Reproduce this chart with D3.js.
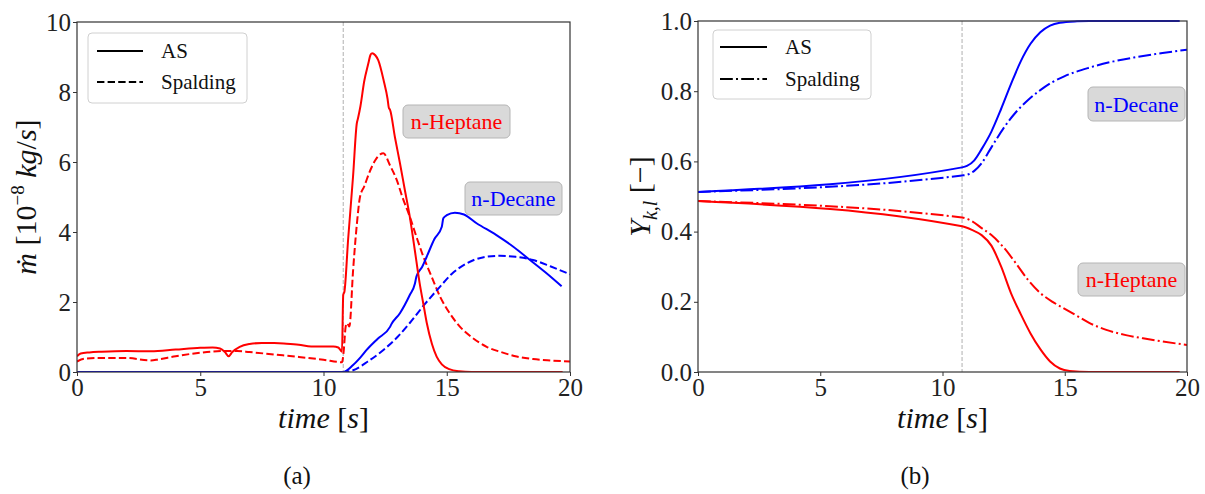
<!DOCTYPE html>
<html><head><meta charset="utf-8">
<script src="https://cdn.jsdelivr.net/npm/d3@7"></script>
<style>body{margin:0;background:#fff}svg{display:block}</style>
</head><body>
<svg id="c" width="1205" height="494"></svg>
<script>
// ---------- DATA ----------
const xTicks = [0, 5, 10, 15, 20];
const yTicksA = [0, 2, 4, 6, 8, 10];
const yTicksB = [0, 0.2, 0.4, 0.6, 0.8, 1.0];
const injectionTime = 10.8;
const legendLabels = ["AS", "Spalding"];
const speciesLabels = ["n-Heptane", "n-Decane"];

// panel (a): mass flow rate [1e-8 kg/s]
const heptaneAS_a = [[0,0.45],[0.15,0.53],[0.5,0.56],[1,0.58],[2,0.6],[3,0.59],[4,0.64],[5,0.69],[5.5,0.7],[5.8,0.67],[6.0,0.57],[6.15,0.45],[6.3,0.57],[6.6,0.72],[7,0.8],[7.5,0.83],[8,0.83],[8.5,0.81],[9,0.78],[9.5,0.73],[10,0.73],[10.4,0.73],[10.6,0.7],[10.75,0.58],[10.8,2.2],[10.85,2.3],[11.0,3.8],[11.2,5.6],[11.35,7.1],[11.4,7.25],[11.5,7.6],[11.65,8.3],[11.82,8.82],[11.9,9.05],[11.97,9.11],[12.1,9.05],[12.22,8.91],[12.45,8.3],[12.6,7.8],[12.65,7.55],[12.7,7.49],[12.9,6.7],[13.1,5.97],[13.3,5.2],[13.5,4.44],[13.7,3.5],[13.9,2.54],[14.05,1.95],[14.19,1.4],[14.4,0.8],[14.59,0.44],[14.8,0.22],[15.1,0.08],[15.5,0.02],[16,0],[19.7,0]];
const heptaneSp_a = [[0,0.3],[0.3,0.38],[1,0.4],[2,0.4],[3,0.33],[3.3,0.36],[4,0.45],[5,0.55],[6,0.6],[6.5,0.6],[7,0.57],[8,0.5],[9,0.43],[10,0.35],[10.75,0.28],[10.82,0.6],[10.9,1.3],[10.95,1.39],[11.0,1.35],[11.05,1.3],[11.2,2.9],[11.35,4.2],[11.48,5.0],[11.65,5.3],[11.89,5.75],[12.1,6.05],[12.3,6.22],[12.43,6.25],[12.7,5.9],[12.97,5.49],[13.2,5.0],[13.5,4.44],[13.8,3.8],[14.05,3.3],[14.4,2.7],[14.73,2.15],[15.1,1.7],[15.54,1.29],[16,1.0],[16.62,0.72],[17.2,0.57],[17.84,0.44],[18.5,0.37],[19.2,0.33],[20,0.3]];
const decaneAS_a = [[0,0],[10.8,0],[11.2,0.2],[11.5,0.42],[11.75,0.63],[12.2,0.95],[12.7,1.29],[12.75,1.36],[13.1,1.68],[13.5,2.2],[13.71,2.53],[13.77,2.73],[14.0,3.0],[14.19,3.3],[14.5,3.8],[14.8,4.15],[14.86,4.39],[15.0,4.48],[15.33,4.55],[15.7,4.5],[16.21,4.25],[17,3.92],[17.7,3.58],[18.38,3.2],[19,2.85],[19.66,2.45]];
const decaneSp_a = [[0,0],[10.8,0],[11.2,0.05],[11.8,0.3],[12.43,0.63],[13.0,1.0],[13.5,1.4],[14.1,1.93],[14.73,2.44],[15.2,2.8],[15.8,3.1],[16.5,3.28],[17.16,3.32],[17.8,3.29],[18.5,3.2],[19.2,3.02],[20,2.79]];

// panel (b): liquid mass fraction [-]
const decaneAS_b = [[0,0.513],[10.8,0.583],[11.0,0.587],[11.3,0.603],[11.6,0.635],[12.0,0.685],[12.4,0.75],[12.8,0.82],[13.2,0.885],[13.6,0.935],[14.0,0.968],[14.4,0.987],[14.8,0.995],[15.5,0.999],[16,1.0],[19.7,1.0]];
const decaneSp_b = [[0,0.513],[10.8,0.56],[11.0,0.562],[11.3,0.573],[11.6,0.595],[12.0,0.64],[12.5,0.695],[13.0,0.74],[13.5,0.775],[14.0,0.803],[14.5,0.826],[15.0,0.843],[16.0,0.867],[17,0.885],[18,0.898],[19,0.909],[20,0.918]];
const heptaneAS_b = [[0,0.487],[10.8,0.415],[11.2,0.405],[11.6,0.39],[12.0,0.36],[12.4,0.3],[12.8,0.225],[13.2,0.165],[13.6,0.11],[14.0,0.065],[14.4,0.03],[14.8,0.01],[15.2,0.003],[16,0],[19.7,0]];
const heptaneSp_b = [[0,0.487],[10.8,0.44],[11.2,0.43],[11.6,0.41],[12.0,0.39],[12.5,0.355],[13.0,0.31],[13.5,0.262],[14.0,0.225],[14.5,0.2],[15.0,0.18],[15.5,0.16],[16,0.14],[16.7,0.12],[17.5,0.105],[18.2,0.096],[19,0.087],[20,0.077]];

// ---------- DRAW ----------
const svg = d3.select("#c");
svg.append("rect").attr("width",1205).attr("height",494).attr("fill","#fff");
const FONT = "Liberation Serif, DejaVu Serif, serif";
const RED = "#ff0000", BLUE = "#0000ff";
const DASH = "7.4,3.2", DASHDOT = "12.8,3.2,2,3.2";

function panel(o) {
  const g = svg.append("g");
  const x = d3.scaleLinear().domain([0,20]).range([o.left, o.right]);
  const y = d3.scaleLinear().domain(o.yDomain).range([o.bottom, o.top]);
  const line = d3.line().x(d=>x(d[0])).y(d=>y(d[1])).curve(d3.curveMonotoneX);
  const clipId = "clip"+o.id;
  svg.append("clipPath").attr("id",clipId).append("rect")
     .attr("x",o.left).attr("y",o.top-2).attr("width",o.right-o.left).attr("height",o.bottom-o.top+2);
  g.append("line").attr("x1",x(injectionTime)).attr("x2",x(injectionTime))
    .attr("y1",o.top).attr("y2",o.bottom).attr("stroke","#b0b0b0").attr("stroke-width",1).attr("stroke-dasharray","4,2");
  o.series.forEach(s=>{
    g.append("path").datum(s.data).attr("d",line).attr("fill","none")
      .attr("stroke",s.color).attr("stroke-width",2).attr("stroke-dasharray",s.dash||null)
      .attr("clip-path",`url(#${clipId})`);
  });
  const ax = g.append("g").attr("transform",`translate(0,${o.bottom})`)
    .call(d3.axisBottom(x).tickValues(xTicks).tickSize(4).tickPadding(2).tickFormat(d3.format("d")));
  const ay = g.append("g").attr("transform",`translate(${o.left},0)`)
    .call(d3.axisLeft(y).tickValues(o.yTicks).tickSize(4).tickPadding(2).tickFormat(o.yFmt));
  [ax, ay].forEach(a=>{
    a.attr("font-family",null).attr("font-size",null);
    a.select(".domain").remove();
    a.selectAll("line").attr("stroke","#333");
    a.selectAll("text").style("font-family",FONT).style("font-size","25px").attr("fill","#222");
  });
  g.append("rect").attr("x",o.left).attr("y",o.top).attr("width",o.right-o.left).attr("height",o.bottom-o.top)
    .attr("fill","none").attr("stroke","#333").attr("stroke-width",1.2);
  const L = o.legend;
  g.append("rect").attr("x",L.x).attr("y",L.y).attr("width",L.w).attr("height",L.h).attr("rx",4)
    .attr("fill","#fff").attr("fill-opacity",0.85).attr("stroke","#d0d0d0").attr("stroke-width",1);
  legendLabels.forEach((lab,i)=>{
    const cy = L.rows[i];
    g.append("line").attr("x1",L.lx0).attr("x2",L.lx1).attr("y1",cy).attr("y2",cy)
      .attr("stroke","#000").attr("stroke-width",2).attr("stroke-dasharray",i===0?null:o.legendDash);
    g.append("text").attr("x",L.tx).attr("y",cy).attr("dy","0.35em").text(lab)
      .style("font-family",FONT).style("font-size","21px").attr("fill","#111");
  });
  o.boxes.forEach(b=>{
    g.append("rect").attr("x",b.x).attr("y",b.y).attr("width",b.w).attr("height",b.h).attr("rx",5)
      .attr("fill","#d9d9d9").attr("stroke","#b5b5b5").attr("stroke-width",1);
    g.append("text").attr("x",b.x+b.w/2).attr("y",b.y+b.h/2).attr("dy","0.35em").attr("text-anchor","middle")
      .text(b.text).attr("fill",b.color).style("font-family",FONT).style("font-size","22px");
  });
  const xl = g.append("text").attr("x",(o.left+o.right)/2).attr("y",428).attr("text-anchor","middle")
    .style("font-family",FONT).style("font-size","30px").attr("fill","#111");
  xl.append("tspan").attr("font-style","italic").text("time ");
  xl.append("tspan").text("[");
  xl.append("tspan").attr("font-style","italic").text("s");
  xl.append("tspan").text("]");
  g.append("text").attr("x",o.capX).attr("y",484).attr("text-anchor","middle")
    .style("font-family",FONT).style("font-size","25px").attr("fill","#111").text(o.caption);
  const yl = g.append("text").attr("transform",`translate(${o.ylabX},${(o.top+o.bottom)/2}) rotate(-90)`)
    .attr("text-anchor","middle").style("font-family",FONT).style("font-size","30px").attr("fill","#111");
  o.ylab(yl);
}

panel({
  id:"a", left:77, right:570, top:22, bottom:372, yDomain:[0,10], yTicks:yTicksA, yFmt:d3.format("d"),
  series:[
    {data:heptaneSp_a,color:RED,dash:DASH},
    {data:decaneSp_a,color:BLUE,dash:DASH},
    {data:decaneAS_a,color:BLUE},
    {data:heptaneAS_a,color:RED}
  ],
  legendDash:DASH,
  legend:{x:88,y:33,w:159,h:70,rows:[51,82],lx0:97,lx1:143,tx:161},
  boxes:[
    {x:403,y:105,w:107,h:33,text:speciesLabels[0],color:RED},
    {x:465,y:182,w:97,h:33,text:speciesLabels[1],color:BLUE}
  ],
  capX:297, caption:"(a)", ylabX:36,
  ylab: t=>{
    t.append("tspan").attr("font-style","italic").text("ṁ");
    t.append("tspan").text(" [10");
    t.append("tspan").style("font-size","19px").attr("dy",-12).text("−8");
    t.append("tspan").attr("dy",12).text(" ");
    t.append("tspan").attr("font-style","italic").text("kg");
    t.append("tspan").text("/");
    t.append("tspan").attr("font-style","italic").text("s");
    t.append("tspan").text("]");
  }
});

panel({
  id:"b", left:698, right:1187, top:21, bottom:372, yDomain:[0,1], yTicks:yTicksB, yFmt:d3.format(".1f"),
  series:[
    {data:decaneSp_b,color:BLUE,dash:DASHDOT},
    {data:heptaneSp_b,color:RED,dash:DASHDOT},
    {data:decaneAS_b,color:BLUE},
    {data:heptaneAS_b,color:RED}
  ],
  legendDash:DASHDOT,
  legend:{x:713,y:30,w:158,h:69,rows:[47,79],lx0:720,lx1:767,tx:785},
  boxes:[
    {x:1088,y:87,w:97,h:34,text:speciesLabels[1],color:BLUE},
    {x:1078,y:263,w:107,h:33,text:speciesLabels[0],color:RED}
  ],
  capX:915, caption:"(b)", ylabX:650,
  ylab: t=>{
    t.append("tspan").attr("font-style","italic").text("Y");
    t.append("tspan").attr("font-style","italic").style("font-size","20px").attr("dy",7).text("k,l");
    t.append("tspan").attr("dy",-7).text(" [−]");
  }
});
</script>
</body></html>
